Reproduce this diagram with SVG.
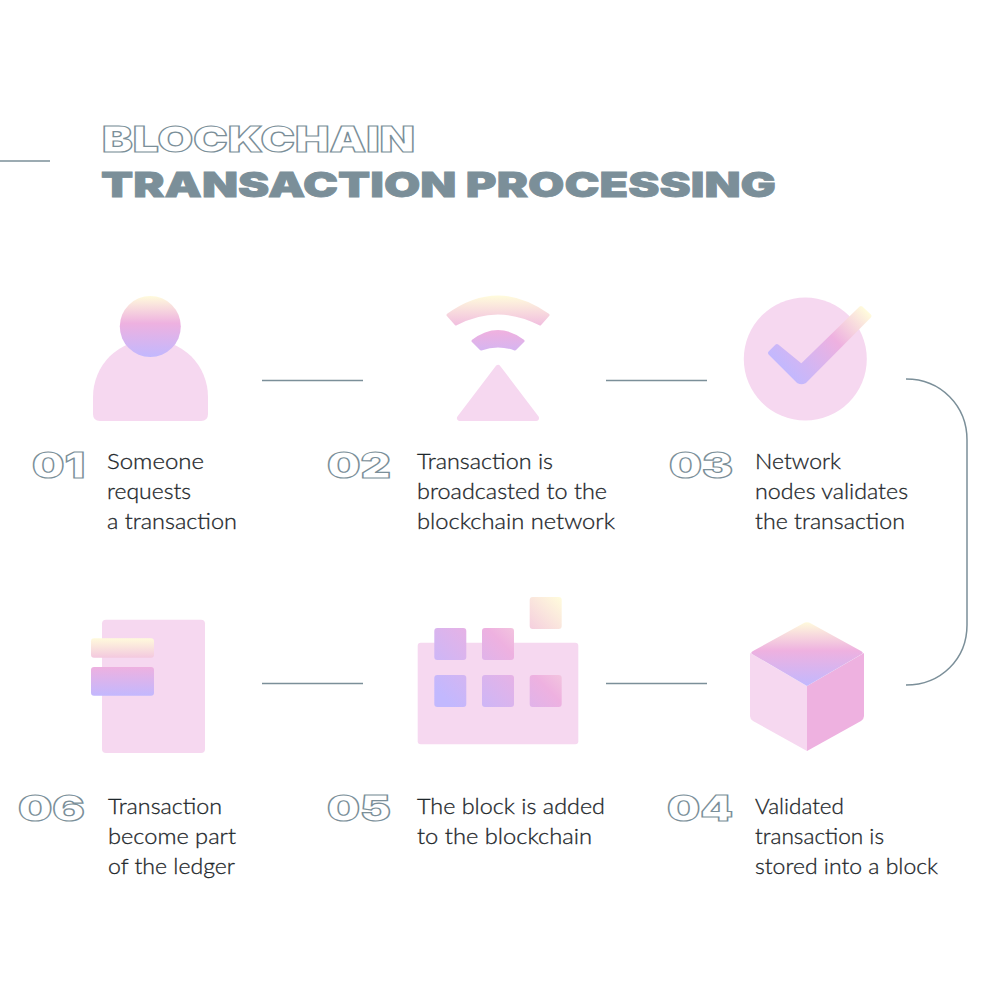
<svg xmlns="http://www.w3.org/2000/svg" width="1000" height="1001" viewBox="0 0 1000 1001">
  <style>
    .wire { fill: none; stroke: #7b8f99; stroke-width: 1.5; }
    .outline { font-family: "Inter", "Liberation Sans", sans-serif; font-weight: 900; font-size: 36px; fill: #fff; stroke: #7b8f99; stroke-width: 1.2; }
    .solid { font-family: "Inter", "Liberation Sans", sans-serif; font-weight: 900; font-size: 34px; fill: #7b8f99; stroke: #7b8f99; stroke-width: 0.8; paint-order: stroke; }
    .body { font-family: "Lato", "Liberation Sans", sans-serif; font-weight: 300; font-size: 22px; fill: #1e272b; stroke: #1e272b; stroke-width: 0.3; }
    .pale { fill: #f6d8f0; }
    .rose { fill: #eeb1e0; }
  </style>
  <defs>
    <linearGradient id="head" gradientUnits="userSpaceOnUse" x1="0" y1="296" x2="0" y2="357">
      <stop offset="0" stop-color="#fffbdc"/><stop offset="0.45" stop-color="#eeb1e0"/><stop offset="1" stop-color="#c2b8fe"/>
    </linearGradient>
    <linearGradient id="signal" gradientUnits="userSpaceOnUse" x1="0" y1="296" x2="0" y2="365">
      <stop offset="0" stop-color="#fffbdc"/><stop offset="0.52" stop-color="#eeb1e0"/><stop offset="1" stop-color="#c2b8fe"/>
    </linearGradient>
    <linearGradient id="tick" gradientUnits="userSpaceOnUse" x1="785" y1="388" x2="866" y2="310">
      <stop offset="0.1" stop-color="#c2b8fe"/><stop offset="0.62" stop-color="#eeb1e0"/><stop offset="1" stop-color="#fffbdc"/>
    </linearGradient>
    <linearGradient id="lid" gradientUnits="userSpaceOnUse" x1="0" y1="622" x2="0" y2="686">
      <stop offset="0" stop-color="#fffbdc"/><stop offset="0.45" stop-color="#eeb1e0"/><stop offset="1" stop-color="#c2b8fe"/>
    </linearGradient>
    <linearGradient id="cells" gradientUnits="userSpaceOnUse" x1="434" y1="707" x2="552" y2="589">
      <stop offset="0.08" stop-color="#c2b8fe"/><stop offset="0.56" stop-color="#eeb1e0"/><stop offset="1" stop-color="#fffbdc"/>
    </linearGradient>
    <linearGradient id="bars" gradientUnits="userSpaceOnUse" x1="0" y1="638" x2="0" y2="696">
      <stop offset="0" stop-color="#fffbdc"/><stop offset="0.5" stop-color="#eeb1e0"/><stop offset="1" stop-color="#c2b8fe"/>
    </linearGradient>
  </defs>

  <rect width="1000" height="1001" fill="#fff"/>

  <g id="title">
    <text class="outline" x="102" y="152" textLength="313" lengthAdjust="spacingAndGlyphs">BLOCKCHAIN</text>
    <text class="solid" x="101" y="197" textLength="675" lengthAdjust="spacingAndGlyphs">TRANSACTION PROCESSING</text>
  </g>

  <g id="connectors">
    <path class="wire" d="M0 161H50"/>
    <path class="wire" d="M262 380.500H363"/>
    <path class="wire" d="M606 380.500H707"/>
    <path class="wire" d="M906 379C941 379 967 406 967 440V625C967 659 941 685 906 685"/>
    <path class="wire" d="M262 683.500H363"/>
    <path class="wire" d="M606 683.500H707"/>
  </g>

  <g id="step-01">
    <path class="pale" d="M93 397A57.500 57.500 0 0 1 208 397V414Q208 421 201 421H100Q93 421 93 414Z"/>
    <circle cx="150.300" cy="326.500" r="30.500" fill="url(#head)"/>
    <text class="outline" x="32" y="478" textLength="53" lengthAdjust="spacingAndGlyphs">01</text>
    <text class="body" x="107" y="469" textLength="97" lengthAdjust="spacingAndGlyphs">Someone</text>
    <text class="body" x="107" y="499" textLength="84" lengthAdjust="spacingAndGlyphs">requests</text>
    <text class="body" x="107" y="529" textLength="130" lengthAdjust="spacingAndGlyphs">a transaction</text>
  </g>

  <g id="step-02">
    <path d="M448 315Q498 279 548 315L540 324Q498 302 456 324Z" fill="url(#signal)" stroke="url(#signal)" stroke-width="3" stroke-linejoin="round"/>
    <path d="M473 341Q498 322 523 341L515 349Q498 343 481 349Z" fill="url(#signal)" stroke="url(#signal)" stroke-width="3" stroke-linejoin="round"/>
    <path class="pale" stroke="#f6d8f0" stroke-width="6" stroke-linejoin="round" d="M498 368L460 418H536Z"/>
    <text class="outline" x="327" y="478" textLength="64" lengthAdjust="spacingAndGlyphs">02</text>
    <text class="body" x="417" y="469" textLength="136" lengthAdjust="spacingAndGlyphs">Transaction is</text>
    <text class="body" x="417" y="499" textLength="190" lengthAdjust="spacingAndGlyphs">broadcasted to the</text>
    <text class="body" x="417" y="529" textLength="198" lengthAdjust="spacingAndGlyphs">blockchain network</text>
  </g>

  <g id="step-03">
    <circle class="pale" cx="805.300" cy="359" r="61.500"/>
    <path d="M770 353L777 346L801.500 366L861 308L869.500 316L804.500 381.500Q801.500 383 798.500 381.500Z" fill="url(#tick)" stroke="url(#tick)" stroke-width="4" stroke-linejoin="round"/>
    <text class="outline" x="669" y="478" textLength="64" lengthAdjust="spacingAndGlyphs">03</text>
    <text class="body" x="755" y="469" textLength="86" lengthAdjust="spacingAndGlyphs">Network</text>
    <text class="body" x="755" y="499" textLength="153" lengthAdjust="spacingAndGlyphs">nodes validates</text>
    <text class="body" x="755" y="529" textLength="150" lengthAdjust="spacingAndGlyphs">the transaction</text>
  </g>

  <g id="step-04">
    <path class="pale" d="M750 653L807 686V751L753 721Q750 719 750 716Z"/>
    <path class="rose" d="M864 653L807 686V751L861 721Q864 719 864 716Z"/>
    <path d="M803 623.500Q807 621 811 623.500L861 651Q864 653 862 654L807 686L752 654Q750 653 753 651Z" fill="url(#lid)"/>
    <text class="outline" x="667" y="821" textLength="66" lengthAdjust="spacingAndGlyphs">04</text>
    <text class="body" x="755" y="814" textLength="89" lengthAdjust="spacingAndGlyphs">Validated</text>
    <text class="body" x="755" y="844" textLength="129" lengthAdjust="spacingAndGlyphs">transaction is</text>
    <text class="body" x="755" y="874" textLength="183" lengthAdjust="spacingAndGlyphs">stored into a block</text>
  </g>

  <g id="step-05">
    <rect class="pale" x="417.700" y="642.700" width="160.600" height="101.600" rx="3"/>
    <g fill="url(#cells)">
      <rect x="434.300" y="628" width="32" height="32" rx="3"/>
      <rect x="482" y="628" width="32" height="32" rx="3"/>
      <rect x="529.700" y="597" width="32" height="32" rx="3"/>
      <rect x="434.300" y="675" width="32" height="32" rx="3"/>
      <rect x="482" y="675" width="32" height="32" rx="3"/>
      <rect x="529.700" y="675" width="32" height="32" rx="3"/>
    </g>
    <text class="outline" x="327" y="821" textLength="64" lengthAdjust="spacingAndGlyphs">05</text>
    <text class="body" x="417" y="814" textLength="188" lengthAdjust="spacingAndGlyphs">The block is added</text>
    <text class="body" x="417" y="844" textLength="175" lengthAdjust="spacingAndGlyphs">to the blockchain</text>
  </g>

  <g id="step-06">
    <rect class="pale" x="102" y="619.700" width="103" height="133.300" rx="4"/>
    <g fill="url(#bars)">
      <rect x="91" y="638.300" width="63" height="19.400" rx="3"/>
      <rect x="91" y="667" width="63" height="28.700" rx="3"/>
    </g>
    <text class="outline" x="18" y="821" textLength="67" lengthAdjust="spacingAndGlyphs">06</text>
    <text class="body" x="108" y="814" textLength="114" lengthAdjust="spacingAndGlyphs">Transaction</text>
    <text class="body" x="108" y="844" textLength="128" lengthAdjust="spacingAndGlyphs">become part</text>
    <text class="body" x="108" y="874" textLength="127" lengthAdjust="spacingAndGlyphs">of the ledger</text>
  </g>
</svg>
